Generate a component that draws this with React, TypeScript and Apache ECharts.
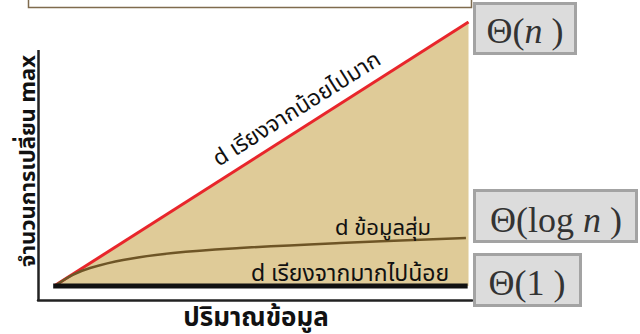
import React, { useEffect, useRef } from "react";
import * as echarts from "echarts";

// data (x in % of the axis width, y in % of the axis height)
const linearX = [3.9, 99.2];
const linearY = [5.2, 100];
const logX = [3.9, 8, 12.0, 19.6, 31.1, 46.5, 69.6, 98.6];
const logY = [5.0, 9.0, 11.5, 14.4, 16.9, 18.7, 20.5, 22.3];
const constX = [3.5, 99.0];
const constY = [5.0, 5.0];

const labelLinear = "d เรียงจากน้อยไปมาก";
const labelLog = "d ข้อมูลสุ่ม";
const labelConst = "d เรียงจากมากไปน้อย";
const xTitle = "ปริมาณข้อมูล";
const yTitle = "จำนวนการเปลี่ยน max";

const thaiFont = "'Noto Sans', 'Noto Sans Thai', 'DejaVu Sans', sans-serif";
const serif = "'Liberation Serif', 'DejaVu Serif', serif";

export default function App() {
  const ref = useRef<HTMLDivElement>(null);
  useEffect(() => {
    if (!ref.current) return;
    const chart = echarts.init(ref.current, undefined, { renderer: "svg" });
    const pairs = (xs: number[], ys: number[]) => xs.map((x, i) => [x, ys[i]]);
    const thetaRich = {
      a: { fontFamily: serif, fontSize: 36, fill: "#333" },
      i: { fontFamily: serif, fontSize: 36, fontStyle: "italic", fill: "#333" },
    };
    chart.setOption({
      animation: false,
      backgroundColor: "#fff",
      grid: { left: 38, top: 22, width: 434, height: 278, containLabel: false },
      xAxis: {
        type: "value",
        min: 0,
        max: 100,
        axisLine: { show: true, lineStyle: { color: "#222", width: 2.5 } },
        axisTick: { show: false },
        axisLabel: { show: false },
        splitLine: { show: false },
      },
      yAxis: {
        type: "value",
        min: 0,
        max: 100,
        axisLine: { show: false },
        axisTick: { show: false },
        axisLabel: { show: false },
        splitLine: { show: false },
      },
      series: [
        {
          type: "line",
          data: pairs(linearX, linearY),
          symbol: "none",
          lineStyle: { color: "#E8262B", width: 3 },
          areaStyle: { color: "#DFCB98", opacity: 1, origin: 5 },
          z: 2,
        },
        {
          type: "line",
          data: pairs(logX, logY),
          symbol: "none",
          smooth: 0.4,
          lineStyle: { color: "#6E5526", width: 2.5 },
          z: 3,
        },
        {
          type: "line",
          data: pairs(constX, constY),
          symbol: "none",
          lineStyle: { color: "#111", width: 5 },
          z: 4,
        },
      ],
      graphic: [
        // top frame remnant
        {
          type: "rect",
          shape: { x: 28.5, y: -10, width: 443, height: 17.5 },
          style: { fill: "#fff", stroke: "#7F6B4E", lineWidth: 1.5 },
          z: 100,
        },
        // y axis line
        {
          type: "line",
          shape: { x1: 38.5, y1: 50, x2: 38.5, y2: 301 },
          style: { stroke: "#222", lineWidth: 2.5 },
          z: 100,
        },
        // titles
        {
          type: "text",
          x: 256,
          y: 316,
          z: 100,
          style: {
            text: xTitle,
            font: `bold 26px ${thaiFont}`,
            lineHeight: 26,
            fill: "#111",
            align: "center",
            verticalAlign: "middle",
          },
        },
        {
          type: "text",
          x: 26,
          y: 161,
          z: 100,
          rotation: Math.PI / 2,
          style: {
            text: yTitle,
            font: `bold 22px ${thaiFont}`,
            fill: "#111",
            align: "center",
            verticalAlign: "middle",
          },
        },
        // curve labels
        {
          type: "text",
          x: 296,
          y: 108,
          z: 100,
          rotation: 0.565,
          style: {
            text: labelLinear,
            font: `22.5px ${thaiFont}`,
            fill: "#111",
            align: "center",
            verticalAlign: "middle",
          },
        },
        {
          type: "text",
          x: 383,
          y: 226,
          z: 100,
          style: {
            text: labelLog,
            font: `22px ${thaiFont}`,
            fill: "#111",
            align: "center",
            verticalAlign: "middle",
          },
        },
        {
          type: "text",
          x: 350,
          y: 272,
          z: 100,
          style: {
            text: labelConst,
            font: `23px ${thaiFont}`,
            fill: "#111",
            align: "center",
            verticalAlign: "middle",
          },
        },
        // Theta boxes
        {
          type: "rect",
          shape: { x: 474.5, y: 3.5, width: 101, height: 50 },
          style: { fill: "#DCDCDC", stroke: "#A3A3A3", lineWidth: 3 },
          z: 100,
        },
        {
          type: "text",
          x: 525,
          y: 31,
          z: 101,
          style: {
            text: "{a|Θ(}{i|n}{a| )}",
            rich: thetaRich,
            align: "center",
            verticalAlign: "middle",
          },
        },
        {
          type: "rect",
          shape: { x: 474.5, y: 190.5, width: 162, height: 51 },
          style: { fill: "#DCDCDC", stroke: "#A3A3A3", lineWidth: 3 },
          z: 100,
        },
        {
          type: "text",
          x: 556,
          y: 220,
          z: 101,
          style: {
            text: "{a|Θ(log }{i|n}{a| )}",
            rich: thetaRich,
            align: "center",
            verticalAlign: "middle",
          },
        },
        {
          type: "rect",
          shape: { x: 474.5, y: 254.5, width: 106, height: 51 },
          style: { fill: "#DCDCDC", stroke: "#A3A3A3", lineWidth: 3 },
          z: 100,
        },
        {
          type: "text",
          x: 527,
          y: 283,
          z: 101,
          style: {
            text: "{a|Θ(1 )}",
            rich: thetaRich,
            align: "center",
            verticalAlign: "middle",
          },
        },
      ],
    });
    return () => chart.dispose();
  }, []);
  return (
    <div
      ref={ref}
      style={{ width: 640, height: 334, position: "absolute", left: 0, top: 0 }}
    />
  );
}
